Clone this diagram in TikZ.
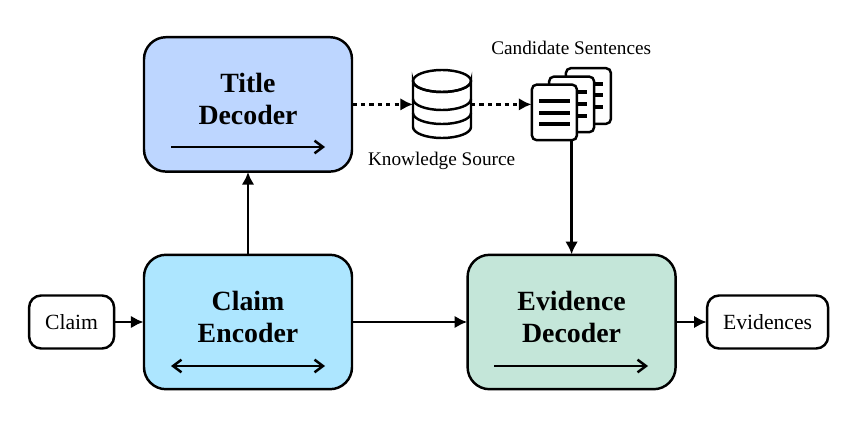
\documentclass[tikz,border=0pt]{standalone}
\usepackage{fontspec}
\setmainfont{Liberation Serif}
\usepackage{xcolor}
\usetikzlibrary{arrows.meta}
\definecolor{titleblue}{HTML}{BDD6FF}
\definecolor{claimblue}{HTML}{ADE6FF}
\definecolor{evidgreen}{HTML}{C4E6D9}
\tikzset{
  fig/.style={draw=black, line width=1.75pt},
  block/.style={fig, outer sep=0.3pt, rounded corners=0.55cm, minimum width=5.2cm, minimum height=3.36cm, align=center, font=\fontsize{19.8}{22.7}\selectfont\bfseries},
  ioBox/.style={fig, outer sep=0.3pt, fill=white, rounded corners=0.3cm, minimum height=1.325cm, font=\fontsize{15.4}{18}\selectfont},
  lbl/.style={font=\fontsize{13.7}{16}\selectfont},
  page/.style={fig, fill=white, rounded corners=0.12cm, minimum width=1.125cm, minimum height=1.39cm, inner sep=0pt, outer sep=0.3pt},
  txtline/.style={draw=black, line width=2.4pt},
  conn/.style={fig, -{Latex[length=9pt, width=9pt]}},
  dashconn/.style={conn, dash pattern=on 3pt off 3pt},
  dirn/.style={fig, -{Straight Barb[length=6pt, width=9pt]}},
  bidirn/.style={fig, {Straight Barb[length=6pt, width=9pt]}-{Straight Barb[length=6pt, width=9pt]}}
}

\begin{document}
\begin{tikzpicture}
\useasboundingbox (0,0) rectangle (21.6,10.5);

% blocks
\node[block, fill=titleblue] (title) at (6.2,7.89) {Title\\Decoder\\[-15pt]\mbox{}};
\node[block, fill=claimblue] (encoder) at (6.2,2.45) {Claim\\Encoder\\[-15pt]\mbox{}};
\node[block, fill=evidgreen] (evidence) at (14.29,2.45) {Evidence\\Decoder\\[-15pt]\mbox{}};

% input and output
\node[ioBox, minimum width=2.125cm] (claim) at (1.79,2.45) {Claim};
\node[ioBox, minimum width=3.025cm] (evidences) at (19.19,2.45) {Evidences};

% direction arrows inside the blocks
\coordinate (titleL) at (4.275,6.825);
\coordinate (titleR) at (8.125,6.825);
\coordinate (encL) at (4.275,1.35);
\coordinate (encR) at (8.125,1.35);
\coordinate (evidL) at (12.35,1.35);
\coordinate (evidR) at (16.2,1.35);
\draw[dirn] (titleL)--(titleR);
\draw[bidirn] (encL)--(encR);
\draw[dirn] (evidL)--(evidR);

% knowledge source
\node[minimum width=1.45cm, minimum height=1.7cm, inner sep=0pt, outer sep=0pt] (source) at (11.05,7.89) {};
\draw[fig, fill=white] (10.325,8.475) arc (180:360:0.725 and 0.275) -- (11.775,7.325)
  arc (360:180:0.725 and 0.275) -- cycle;
\draw[fig] (11.05,8.475) ellipse (0.725 and 0.275);
\draw[fig] (10.325,8.025) arc (180:360:0.725 and 0.275);
\draw[fig] (10.325,7.675) arc (180:360:0.725 and 0.275);
\node[lbl] (sourcelbl) at (11.04,6.48) {Knowledge Source};

% candidate sentences
\node[page] (pageback) at (14.71,8.1) {};
\draw[txtline] (14.85,8.4)--(15.08,8.4);
\draw[txtline] (14.85,8.125)--(15.08,8.125);
\draw[txtline] (14.85,7.825)--(15.08,7.825);
\node[page] (pagemid) at (14.29,7.89) {};
\draw[txtline] (14.43,8.2)--(14.67,8.2);
\draw[txtline] (14.43,7.9)--(14.67,7.9);
\draw[txtline] (14.43,7.6)--(14.67,7.6);
\node[page] (page) at (13.86,7.69) {};
\draw[txtline] (13.48,7.975)--(14.25,7.975);
\draw[txtline] (13.48,7.675)--(14.25,7.675);
\draw[txtline] (13.48,7.4)--(14.25,7.4);
\node[lbl] (pagelbl) at (14.28,9.29) {Candidate Sentences};

% connectors
\draw[conn] (claim)--(encoder);
\draw[conn] (encoder)--(title);
\draw[conn] (encoder)--(evidence);
\draw[conn] (evidence)--(evidences);
\draw[dashconn] (title)--(source);
\draw[dashconn] (source.east)--(source.east -| page.west);
\draw[conn] (evidence.north |- page.south)--(evidence.north);
\end{tikzpicture}
\end{document}
